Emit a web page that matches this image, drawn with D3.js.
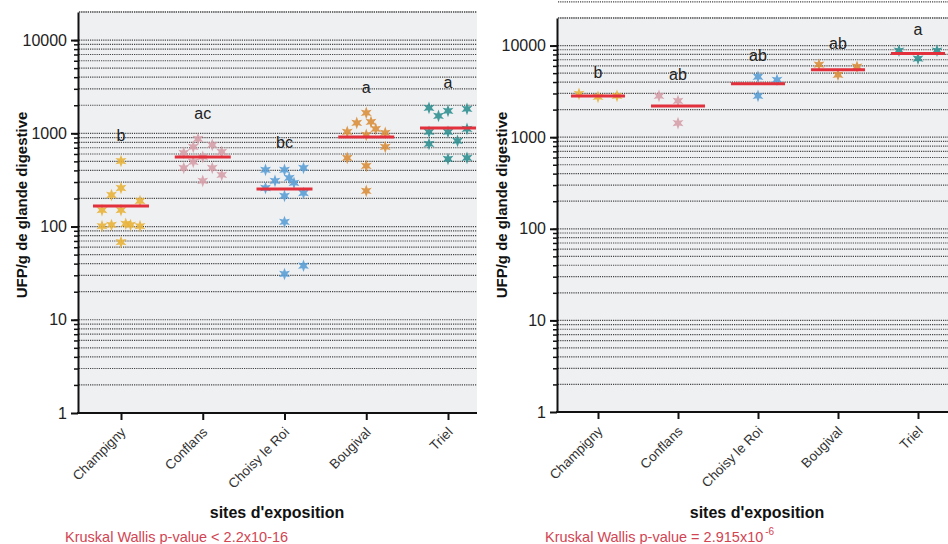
<!DOCTYPE html>
<html>
<head>
<meta charset="utf-8">
<script src="https://cdn.jsdelivr.net/npm/d3@7/dist/d3.min.js"></script>
<style>
  body { margin: 0; background: #fff; }
  svg { font-family: "Liberation Sans", Arial, sans-serif; display: block; }
</style>
</head>
<body>
<svg id="chart" width="948" height="544"></svg>
<script>

// sites and colours
var sites = ["Champigny", "Conflans", "Choisy le Roi", "Bougival", "Triel"];
var siteColors = ["#e8b23a", "#d59ea9", "#5a9fd6", "#d98f3c", "#2f9091"];

// left panel: UFP values per site, and swarm column of each point
var leftValues = [
  [504, 259, 218, 188, 150, 150, 101, 104, 107, 104, 101, 68],
  [871, 751, 714, 616, 632, 558, 493, 425, 425, 358, 309],
  [405, 405, 425, 309, 332, 294, 259, 213, 229, 112, 38, 31],
  [1655, 1293, 1325, 1115, 1035, 961, 1010, 714, 545, 447, 241],
  [1874, 1537, 1740, 1828, 1035, 1035, 1115, 829, 769, 531, 545]
];
var leftCols = [
  [0, 0, -1, 2, -2, 0, -2, -1, 0.5, 1, 2, 0],
  [-0.5, 1, -1, -2, 2, 0, -1, -2, 1, 2, 0],
  [-2, 0, 2, -1, 0.5, 1, -2, 0, 2, 0, 2, 0],
  [0, -1, 0.5, 1, -2, 0, 2, 2, -2, 0, 0],
  [-2, -1, 0, 2, -2, 0, 2, 1, -2, 0, 2]
];
var leftMeans = [166, 558, 253, 915, 1143];
var leftLetters = ["b", "ac", "bc", "a", "a"];

// right panel
var rightValues = [
  [2970, 2752, 2823],
  [2823, 2487, 1425],
  [4565, 4230, 2823],
  [6183, 4800, 5875],
  [8810, 7197, 8810]
];
var rightCols = [
  [-2, 0, 2],
  [-2, 0, 0],
  [0, 2, 0],
  [-2, 0, 2],
  [-2, 0, 2]
];
var rightMeans = [2820, 2192, 3822, 5450, 8170];
var rightLetters = ["b", "ab", "ab", "ab", "a"];

var yTicks = [1, 10, 100, 1000, 10000];

var svg = d3.select("#chart");

function starPath(R, r) {
  var pts = [];
  for (var i = 0; i < 12; i++) {
    var a = -Math.PI / 2 + i * Math.PI / 6;
    var rad = (i % 2 === 0) ? R : r;
    pts.push([Math.cos(a) * rad, Math.sin(a) * rad]);
  }
  return "M" + pts.map(function(p){ return p[0].toFixed(2) + "," + p[1].toFixed(2); }).join("L") + "Z";
}
var star = starPath(6.3, 2.8);

function panel(opts, values, cols, means, letters, pText, pSup) {
  var g = svg.append("g");

  var yScale = d3.scaleLog()
    .domain([1, 20000])
    .range([opts.bottom, opts.top]);

  var xScale = d3.scalePoint()
    .domain(sites)
    .range(opts.xr)
    .padding(0);

  var jitter = d3.scaleLinear().domain([-2, 2]).range([-opts.jit, opts.jit]);

  // background
  g.append("rect")
    .attr("x", opts.left)
    .attr("y", opts.top - 1)
    .attr("width", opts.right - opts.left)
    .attr("height", opts.bottom - opts.top + 1)
    .attr("fill", "#eff0f2");

  // minor grid values
  var grid = [];
  for (var e = 0; e <= 4; e++) {
    for (var k = 1; k <= 9; k++) {
      var v = k * Math.pow(10, e);
      if (v > 1) grid.push(v);
    }
  }
  grid.push(20000);

  g.selectAll(".grid")
    .data(grid)
    .enter().append("line")
    .attr("class", "grid")
    .attr("x1", opts.left + 1)
    .attr("x2", opts.right)
    .attr("y1", function(d){ return yScale(d); })
    .attr("y2", function(d){ return yScale(d); })
    .attr("stroke", "#444")
    .attr("stroke-width", 1.2)
    .attr("stroke-dasharray", "1.2,1");

  // y axis minor ticks
  g.append("g")
    .attr("transform", "translate(" + opts.left + ",0)")
    .call(d3.axisLeft(yScale).tickValues(grid.filter(function(d){ return d < 20000; })).tickSize(4).tickFormat(""))
    .call(function(a){ a.select(".domain").remove(); a.selectAll("line").attr("stroke", "#111").attr("stroke-width", 1.5); });

  // y axis
  g.append("g")
    .attr("transform", "translate(" + opts.left + ",0)")
    .call(d3.axisLeft(yScale).tickValues(yTicks).tickSize(7).tickSizeOuter(0).tickFormat(d3.format("d")))
    .call(function(a){
      a.select(".domain").attr("stroke", "#111").attr("stroke-width", 2);
      a.selectAll("line").attr("stroke", "#111").attr("stroke-width", 2);
      a.selectAll("text").attr("font-size", 16).attr("fill", "#222").attr("dx", -1);
    });

  // x axis
  var xa = g.append("g")
    .attr("transform", "translate(0," + opts.bottom + ")")
    .call(d3.axisBottom(xScale).tickSize(7).tickSizeOuter(0));
  xa.select(".domain").remove();
  xa.selectAll("line").attr("stroke", "#111").attr("stroke-width", 2);
  xa.selectAll("text")
    .attr("font-size", 13.5)
    .attr("fill", "#333")
    .attr("text-anchor", "end")
    .attr("dy", 0)
    .attr("y", 0)
    .attr("transform", "translate(5,20) rotate(-45)");
  g.append("line")
    .attr("x1", opts.left - 1).attr("x2", opts.right)
    .attr("y1", opts.bottom).attr("y2", opts.bottom)
    .attr("stroke", "#111").attr("stroke-width", 2);

  // points
  var pts = [];
  values.forEach(function(arr, i){
    arr.forEach(function(v, j){
      pts.push({site: sites[i], i: i, v: v, c: cols[i][j]});
    });
  });

  g.selectAll(".pt")
    .data(pts)
    .enter().append("path")
    .attr("class", "pt")
    .attr("d", star)
    .attr("transform", function(d){
      return "translate(" + (xScale(d.site) + jitter(d.c)) + "," + yScale(d.v) + ")";
    })
    .attr("fill", function(d){ return siteColors[d.i]; })
    .attr("opacity", 0.9);

  // mean lines
  g.selectAll(".mean")
    .data(means)
    .enter().append("line")
    .attr("class", "mean")
    .attr("x1", function(d, i){ return xScale(sites[i]) - opts.half; })
    .attr("x2", function(d, i){ return xScale(sites[i]) + opts.half; })
    .attr("y1", function(d){ return yScale(d); })
    .attr("y2", function(d){ return yScale(d); })
    .attr("stroke", "#e2313c")
    .attr("stroke-width", 3);

  // significance letters
  g.selectAll(".letter")
    .data(letters)
    .enter().append("text")
    .attr("class", "letter")
    .attr("x", function(d, i){ return xScale(sites[i]); })
    .attr("y", function(d, i){ return yScale(d3.max(values[i])) - opts.lift; })
    .attr("text-anchor", "middle")
    .attr("font-size", 16)
    .attr("fill", "#222")
    .text(function(d){ return d; });

  // axis titles
  g.append("text")
    .attr("transform", "translate(" + opts.ylabX + "," + opts.ylabY + ") rotate(-90)")
    .attr("text-anchor", "middle")
    .attr("font-size", 15)
    .attr("font-weight", "bold")
    .attr("fill", "#111")
    .text("UFP/g de glande digestive");

  g.append("text")
    .attr("x", opts.xlabX)
    .attr("y", 518)
    .attr("text-anchor", "middle")
    .attr("font-size", 16)
    .attr("font-weight", "bold")
    .attr("fill", "#111")
    .text("sites d'exposition");

  var p = g.append("text")
    .attr("x", opts.pX)
    .attr("y", 542)
    .attr("font-size", 14.5)
    .attr("fill", "#d24452")
    .text(pText);
  if (pSup) {
    p.append("tspan")
      .attr("dy", -7)
      .attr("dx", 2)
      .attr("font-size", 10)
      .text(pSup);
  }
}

panel({left: 78, right: 477, top: 12, bottom: 413, xr: [121, 448], jit: 19, half: 28, lift: 20,
       ylabX: 27, ylabY: 205, xlabX: 277, pX: 65},
      leftValues, leftCols, leftMeans, leftLetters, "Kruskal Wallis p-value < 2.2x10-16", null);

panel({left: 557, right: 948, top: 18, bottom: 412, xr: [598, 918], jit: 19, half: 27, lift: 16,
       ylabX: 507, ylabY: 205, xlabX: 757, pX: 545},
      rightValues, rightCols, rightMeans, rightLetters, "Kruskal Wallis p-value = 2.915x10", "-6");

</script>
</body>
</html>
